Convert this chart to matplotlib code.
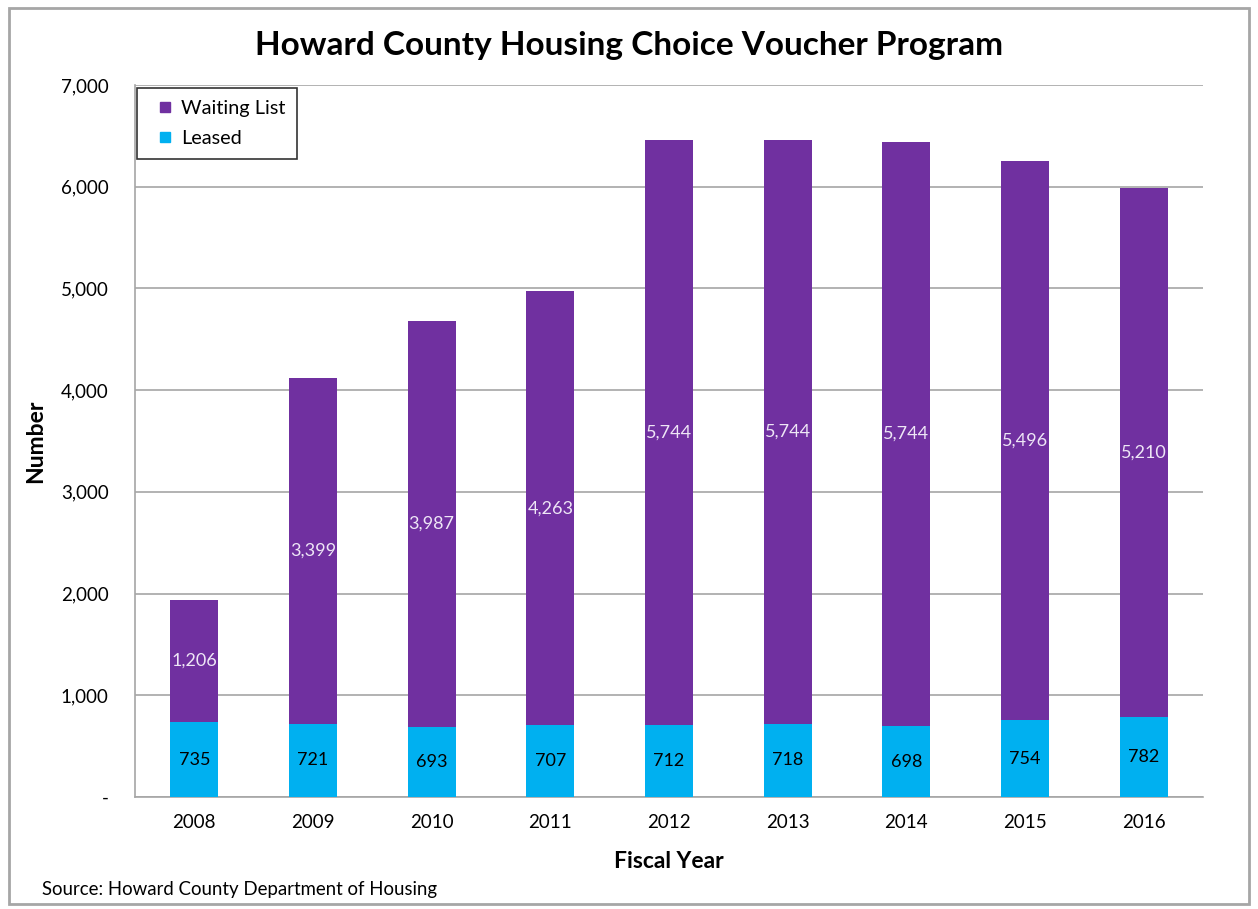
import matplotlib
matplotlib.use("Agg")
import matplotlib.pyplot as plt
from matplotlib.patches import Rectangle
from matplotlib.lines import Line2D
import numpy as np

years = ["2008", "2009", "2010", "2011", "2012", "2013", "2014", "2015", "2016"]
leased = [735, 721, 693, 707, 712, 718, 698, 754, 782]
waiting = [1206, 3399, 3987, 4263, 5744, 5744, 5744, 5496, 5210]

purple = "#7030A0"
blue = "#00B0F0"

plt.rcParams['font.family'] = ['Lato', 'DejaVu Sans']

fig = plt.figure(figsize=(12.58, 9.09), dpi=100)
ax = fig.add_axes([135 / 1258, 1 - 797 / 909, 1068 / 1258, 712 / 909])

x = np.arange(len(years))
w = 0.405
ax.bar(x, leased, width=w, color=blue, label="Leased", zorder=3)
ax.bar(x, waiting, width=w, bottom=leased, color=purple, label="Waiting List", zorder=3)

for xi, l, wv in zip(x, leased, waiting):
    ax.text(xi, l / 2, f"{l:,}", ha="center", va="center", fontsize=13, color="black", zorder=4)
    ax.text(xi, l + wv / 2, f"{wv:,}", ha="center", va="center", fontsize=13, color="#EEE6F6", zorder=4)

ax.set_xlim(-0.5, len(years) - 0.5)
ax.set_ylim(0, 7000)
ax.set_yticks(range(0, 7001, 1000))
ax.set_yticklabels(["-"] + [f"{v:,}" for v in range(1000, 7001, 1000)])
ax.set_xticks(x)
ax.set_xticklabels(years)
ax.tick_params(axis="both", length=0, labelsize=13.5)
ax.tick_params(axis="x", pad=12)
ax.tick_params(axis="y", pad=19)
ax.grid(axis="y", color="#A6A6A6", linewidth=1.2, zorder=0)
for s in ["top", "right"]:
    ax.spines[s].set_visible(False)
ax.spines["left"].set_color("#A6A6A6")
ax.spines["bottom"].set_color("#A6A6A6")
ax.spines["left"].set_linewidth(1.2)
ax.spines["bottom"].set_linewidth(1.2)

ax.set_xlabel("Fiscal Year", fontsize=16.5, fontweight="bold")
ax.xaxis.set_label_coords(0.5, (861 - 797) / -712, transform=ax.transAxes)
ax.xaxis.label.set_va("center")
ax.set_ylabel("Number", fontsize=16.5, fontweight="bold")
ax.yaxis.set_label_coords((36 - 135) / 1068, 0.5, transform=ax.transAxes)
ax.yaxis.label.set_va("center")

handles = [Line2D([], [], linestyle="none", marker="s", markersize=7.5, color=purple),
           Line2D([], [], linestyle="none", marker="s", markersize=7.5, color=blue)]
leg = ax.legend(handles, ["Waiting List", "Leased"], loc="upper left",
                bbox_to_anchor=(2 / 1068, 1 - 3 / 712), fontsize=14.3, frameon=True, fancybox=False,
                handlelength=1.6, handletextpad=0.0,
                borderpad=0.6, labelspacing=0.65, borderaxespad=0.0)
leg.get_frame().set_edgecolor("black")
leg.get_frame().set_linewidth(1.2)

fig.text(0.5, 1 - 45 / 909, "Howard County Housing Choice Voucher Program", ha="center", va="center",
         fontsize=24, fontweight="bold")
fig.text(42 / 1258, 1 - 889 / 909, "Source: Howard County Department of Housing", ha="left", va="center",
         fontsize=13.4)

fig.patches.append(Rectangle((0.007, 0.006), 0.986, 0.985, transform=fig.transFigure,
                             fill=False, edgecolor="#A6A6A6", linewidth=2))

fig.savefig("out.png", dpi=100)
